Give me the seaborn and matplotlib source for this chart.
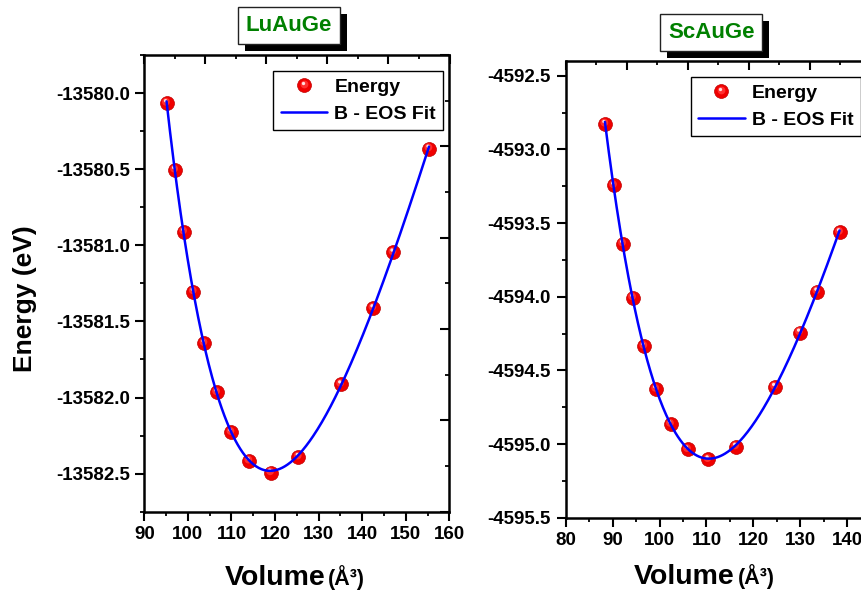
import numpy as np
import pandas as pd
import matplotlib
matplotlib.use("Agg")
import matplotlib.pyplot as plt
import matplotlib.transforms as mtransforms
from matplotlib.ticker import MultipleLocator, FormatStrFormatter
from matplotlib.lines import Line2D
from matplotlib.patches import Rectangle
from matplotlib.legend_handler import HandlerBase
import seaborn as sns

# ---- data: total energy vs. cell volume ----
lu_volume = [95.1, 96.97, 99.04, 101.24, 103.7, 106.6, 109.89, 114.0,
             118.99, 125.32, 135.05, 142.45, 147.04, 155.3]
lu_energy = [-13580.066, -13580.505, -13580.911, -13581.304, -13581.643,
             -13581.966, -13582.228, -13582.416, -13582.493, -13582.390,
             -13581.913, -13581.413, -13581.047, -13580.365]

sc_volume = [88.36, 90.21, 92.13, 94.26, 96.66, 99.2, 102.34, 105.96,
             110.34, 116.23, 124.53, 129.85, 133.53, 138.36]
sc_energy = [-4592.827, -4593.245, -4593.640, -4594.006, -4594.336,
             -4594.627, -4594.865, -4595.036, -4595.104, -4595.018,
             -4594.612, -4594.243, -4593.965, -4593.562]

titles = ["LuAuGe", "ScAuGe"]
legend_labels = ["Energy", "B - EOS Fit"]
x_label_main = "Volume"
x_label_unit = "(Å³)"
y_label = "Energy (eV)"

# ---- style ----
sns.set_style("ticks", {"axes.edgecolor": "black", "xtick.color": "black",
                        "ytick.color": "black", "text.color": "black",
                        "axes.labelcolor": "black"})
plt.rcParams["font.family"] = ["Liberation Sans", "DejaVu Sans"]
plt.rcParams["font.weight"] = "bold"
plt.rcParams["axes.labelweight"] = "bold"

DPI = 100
W, H = 862, 593
fig = plt.figure(figsize=(W / DPI, H / DPI), dpi=DPI)
fig.patch.set_facecolor("white")


def px_rect(x0, y0, x1, y1):
    """axes rectangle from pixel corners (top-left origin)"""
    return [x0 / W, (H - y1) / H, (x1 - x0) / W, (y1 - y0) / H]


ax1 = fig.add_axes(px_rect(144.3, 55.0, 449.5, 511.7))
ax2 = fig.add_axes(px_rect(565.7, 61.0, 870.7, 517.7))

# layered discs giving a shaded-sphere look: (dx px, dy px, size, face, edge)
SPHERE = [(0.0, 0.0, 10.0, "#f00000", "#c00000"),
          (-0.6, 1.3, 5.6, "#ff3030", "none"),
          (-1.0, 2.4, 2.4, "#ffe0e0", "none")]


def birch_fit(volume, energy, n=300):
    """third-order Birch-Murnaghan fit: E is cubic in V^(-2/3)"""
    v = np.asarray(volume, dtype=float)
    e = np.asarray(energy, dtype=float)
    e0 = e.mean()
    coef = np.polyfit(v ** (-2.0 / 3.0), e - e0, 3)
    vg = np.linspace(v.min(), v.max(), n)
    return vg, np.polyval(coef, vg ** (-2.0 / 3.0)) + e0


def draw_panel(ax, volume, energy):
    df = pd.DataFrame({"volume": volume, "energy": energy})
    vg, eg = birch_fit(volume, energy)
    fit = pd.DataFrame({"volume": vg, "energy": eg})
    for dx, dy, ms, fc, ec in SPHERE:
        tr = mtransforms.offset_copy(ax.transData, fig=fig, x=dx, y=dy,
                                     units="dots")
        sns.scatterplot(data=df, x="volume", y="energy", ax=ax, s=ms ** 2,
                        color=fc, edgecolor=ec, linewidth=0.5,
                        transform=tr, zorder=3)
    sns.lineplot(data=fit, x="volume", y="energy", ax=ax, color="#0000ff",
                 lw=1.8, sort=False, estimator=None, zorder=4)


draw_panel(ax1, lu_volume, lu_energy)
draw_panel(ax2, sc_volume, sc_energy)

ax1.set_xlim(90, 160)
ax1.set_ylim(-13582.75, -13579.75)
ax2.set_xlim(80, 145)
ax2.set_ylim(-4595.5, -4592.4)


def style_axes(ax):
    ax.xaxis.set_major_locator(MultipleLocator(10))
    ax.xaxis.set_minor_locator(MultipleLocator(5))
    ax.yaxis.set_major_locator(MultipleLocator(0.5))
    ax.yaxis.set_minor_locator(MultipleLocator(0.25))
    ax.yaxis.set_major_formatter(FormatStrFormatter("%.1f"))
    ax.xaxis.set_major_formatter(FormatStrFormatter("%d"))
    ax.tick_params(which="both", direction="out", top=False, right=False,
                   width=1.5, labelsize=13.5, pad=4)
    ax.tick_params(which="major", length=6.5)
    ax.tick_params(which="minor", length=3.2, width=1.3)
    for sp in ax.spines.values():
        sp.set_visible(True)
        sp.set_linewidth(1.8)
        sp.set_color("black")
    ax.set_xlabel("")
    ax.set_ylabel("")

    # unlabelled inward ticks along top and right edges
    top = ax.twiny()
    top.set_xlim(0, 1)
    top.xaxis.set_major_locator(MultipleLocator(0.2))
    top.xaxis.set_minor_locator(MultipleLocator(0.1))
    top.tick_params(axis="x", which="both", direction="in", top=True,
                    bottom=False, labeltop=False, labelbottom=False, width=1.5)
    top.tick_params(axis="x", which="major", length=6.5)
    top.tick_params(axis="x", which="minor", length=3.2, width=1.3)
    right = ax.twinx()
    right.set_ylim(0, 1)
    right.yaxis.set_major_locator(MultipleLocator(0.2))
    right.yaxis.set_minor_locator(MultipleLocator(0.1))
    right.tick_params(axis="y", which="both", direction="in", right=True,
                      left=False, labelright=False, labelleft=False, width=1.5)
    right.tick_params(axis="y", which="major", length=6.5)
    right.tick_params(axis="y", which="minor", length=3.2, width=1.3)
    for tw in (top, right):
        for sp in tw.spines.values():
            sp.set_visible(False)


style_axes(ax1)
style_axes(ax2)


# x-axis titles: large word, smaller unit
def volume_label(ax, xsplit, ybase):
    ax.text(xsplit, ybase, x_label_main, transform=ax.transAxes,
            ha="right", va="baseline", fontsize=20.5, fontweight="bold")
    ax.text(xsplit + 0.008, ybase, x_label_unit, transform=ax.transAxes,
            ha="left", va="baseline", fontsize=15.5, fontweight="bold")


volume_label(ax1, 0.595, -0.1605)
volume_label(ax2, 0.555, -0.145)

ax1.set_ylabel(y_label, fontsize=19, fontweight="bold")
ax1.yaxis.set_label_coords(-0.350, 0.466)


# legend with a shaded sphere handle
class SphereHandler(HandlerBase):
    def create_artists(self, legend, orig_handle, xdescent, ydescent,
                       width, height, fontsize, trans):
        cx = 0.5 * width - xdescent
        cy = 0.5 * height - ydescent
        arts = []
        for dx, dy, ms, fc, ec in SPHERE:
            a = Line2D([cx + dx * 0.72], [cy + dy * 0.72], ls="", marker="o",
                       ms=ms, mfc=fc, mec=ec, mew=0.5)
            a.set_transform(trans)
            arts.append(a)
        return arts


sphere_handle = Line2D([], [], ls="", marker="o", color="#f00000")
fit_handle = Line2D([], [], color="#0000ff", lw=1.8)


def add_legend(ax, xr, yt):
    leg = ax.legend([sphere_handle, fit_handle], legend_labels,
                    handler_map={sphere_handle: SphereHandler()},
                    loc="upper right", bbox_to_anchor=(xr, yt),
                    borderaxespad=0, fancybox=False, framealpha=1,
                    edgecolor="black", prop={"size": 14, "weight": "bold"},
                    handlelength=2.4, handletextpad=0.35, borderpad=0.38,
                    labelspacing=0.5)
    leg.get_frame().set_linewidth(1.0)
    leg.set_zorder(10)


add_legend(ax1, 0.9797, 0.9656)
add_legend(ax2, 0.967, 0.9656)


# boxed compound names with a solid drop shadow
title_texts = []
for (xc, yc), name in zip([(289.0, 25.7), (711.2, 32.0)], titles):
    t = fig.text(xc / W, 1 - yc / H, name, color="#008000", ha="center",
                 va="center", fontsize=16, fontweight="bold", zorder=5,
                 bbox=dict(boxstyle="square,pad=0.36", fc="white",
                           ec="#222222", lw=1))
    title_texts.append(t)

fig.canvas.draw()
for t in title_texts:
    bb = t.get_bbox_patch().get_window_extent()
    fig.add_artist(Rectangle((bb.x0 + 7, bb.y0 - 7), bb.width, bb.height,
                             transform=mtransforms.IdentityTransform(),
                             fc="black", ec="black", lw=0, zorder=4))

fig.savefig("out.png", dpi=DPI, facecolor="white")
